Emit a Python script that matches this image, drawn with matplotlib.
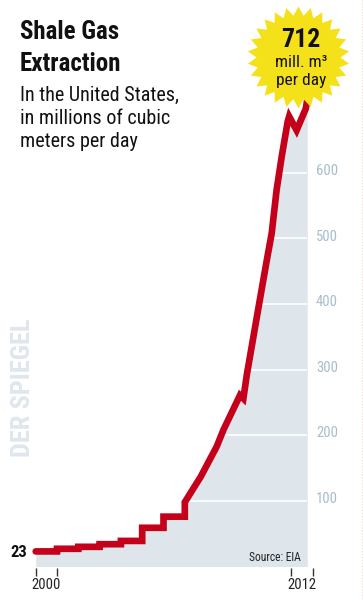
import numpy as np
import matplotlib
matplotlib.use("Agg")
import matplotlib.pyplot as plt
from matplotlib import font_manager
from matplotlib.patches import Polygon
from matplotlib.transforms import Affine2D, blended_transform_factory

# Data: annual steps 2000-2006, then finer readings 2007-2012 (mill. m3 per day)
annual_years = [2000, 2001, 2002, 2003, 2004, 2005, 2006]
annual_values = [23, 27, 30, 34, 39, 59, 76]
recent_years = [2007.0, 2007.75, 2008.5, 2008.81, 2009.59, 2009.75, 2009.91,
                2010.45, 2010.85, 2011.08, 2011.31, 2011.55, 2011.83, 2011.9,
                2012.25, 2012.68, 2012.75]
recent_values = [98, 137, 183, 208, 261, 256, 292,
                 393, 467, 508, 574, 625, 678, 686,
                 665, 698, 712]
y_ticks = [100, 200, 300, 400, 500, 600]
x_labels = {2000: "2000", 2012: "2012"}
peak_value = 712

# Pick a narrow font if one is installed
names = {f.name for f in font_manager.fontManager.ttflist}
cond_stretch = "normal"
if "Roboto Condensed" in names:
    narrow = "Roboto Condensed"
elif "Liberation Sans Narrow" in names:
    narrow = "Liberation Sans Narrow"
elif any(f.name == "DejaVu Sans" and f.stretch == "condensed" for f in font_manager.fontManager.ttflist):
    narrow = "DejaVu Sans"
    cond_stretch = "condensed"
else:
    narrow = "Roboto"
plt.rcParams["font.family"] = [narrow, "DejaVu Sans"]
plt.rcParams["font.stretch"] = cond_stretch

W, H = 363, 600
fig = plt.figure(figsize=(W / 100, H / 100), dpi=100)
fig.patch.set_facecolor("white")
# pixel coordinates, origin top-left
px = Affine2D().scale(1 / W, -1 / H).translate(0, 1) + fig.transFigure

# data axes covering the whole figure: 2000 at x=35.7px, 21.3 px/year; 0 at y=566.5px, 0.656 px/unit
ax = fig.add_axes([0, 0, 1, 1])
x0, ppy = 35.7, 21.3
y0, ppu = 566.5, 0.656
ax.set_xlim(2000 - x0 / ppy, 2000 + (W - x0) / ppy)
ax.set_ylim(-(H - y0) / ppu, y0 / ppu)
ax.axis("off")

# build the line: staircase for annual data, then recent readings
xs, ys = [], []
for yr, v in zip(annual_years, annual_values):
    xs += [yr, yr + 1]
    ys += [v, v]
xs += recent_years
ys += recent_values
xs = np.array(xs, dtype=float)
ys = np.array(ys, dtype=float)

fill_color = "#dee6ec"
ax.fill_between(xs, ys, 0, color=fill_color, lw=0, zorder=1)
ax.hlines(y_ticks, 2000, xs[-1], color="white", lw=1.2, zorder=2)
ax.plot(xs, ys, color="#c4001a", lw=4.8, solid_capstyle="round",
        solid_joinstyle="miter", zorder=3)

# right-side value labels
for t in y_ticks:
    ax.text(2000 + (327 - x0) / ppy, t + 3, str(t), ha="center", va="center",
            fontsize=10.5, color="#a8bdcb", zorder=4)

# x ticks and labels
bx = blended_transform_factory(ax.transData, px)
ax.vlines([2000, 2001, 2012, 2013], 568, 576, transform=bx, color="#333333", lw=1)
for yr, lab in x_labels.items():
    ax.text(yr + 0.5, 589, lab, transform=bx, ha="center", va="baseline",
            fontsize=10.5, color="#222222")

# start value
ax.text(27, 557, str(annual_values[0]), transform=px, ha="right", va="baseline",
        fontsize=12, fontweight="heavy", color="#111111")

ax.text(301, 561, "Source: EIA", transform=px, ha="right", va="baseline",
        fontsize=8.3, color="#222222", zorder=4)

# titles
ax.text(20, 39, "Shale Gas", transform=px, ha="left", va="baseline",
        fontsize=18, fontweight="heavy", color="#111111")
ax.text(20, 71, "Extraction", transform=px, ha="left", va="baseline",
        fontsize=18, fontweight="heavy", color="#111111")
for i, line in enumerate(["In the United States,", "in millions of cubic", "meters per day"]):
    ax.text(20, 100.7 + i * 23, line, transform=px, ha="left", va="baseline",
            fontsize=14.5, color="#111111")

# watermark
ax.text(22.7, 388, "DER SPIEGEL", transform=px, ha="center", va="center",
        rotation=90, fontsize=19, fontweight="heavy", color="#dfe6ed", zorder=0)

# starburst
n_pts = 26
cx, cy, r_out, r_in = 298.5, 57.5, 51, 42
ang = np.linspace(0, 2 * np.pi, 2 * n_pts, endpoint=False) - np.pi / 2
rad = np.where(np.arange(2 * n_pts) % 2 == 0, r_out, r_in)
star = Polygon(np.column_stack([cx + rad * np.cos(ang), cy + rad * np.sin(ang)]),
               closed=True, transform=px, facecolor="#f5e11a", edgecolor="none", zorder=5)
ax.add_patch(star)
ax.text(301, 46.7, str(peak_value), transform=px, ha="center", va="baseline",
        fontsize=18.5, fontweight="heavy", color="#111111", zorder=6)
ax.text(301, 66.7, "mill. m³", transform=px, ha="center", va="baseline",
        fontsize=12.5, color="#111111", zorder=6)
ax.text(301, 85, "per day", transform=px, ha="center", va="baseline",
        fontsize=12.5, color="#111111", zorder=6)

# faint right border
ax.plot([361.7, 361.7], [0, H], transform=px, color="#f0d8d2", lw=0.8, ls=":", zorder=0)

fig.savefig("out.png", dpi=100)
